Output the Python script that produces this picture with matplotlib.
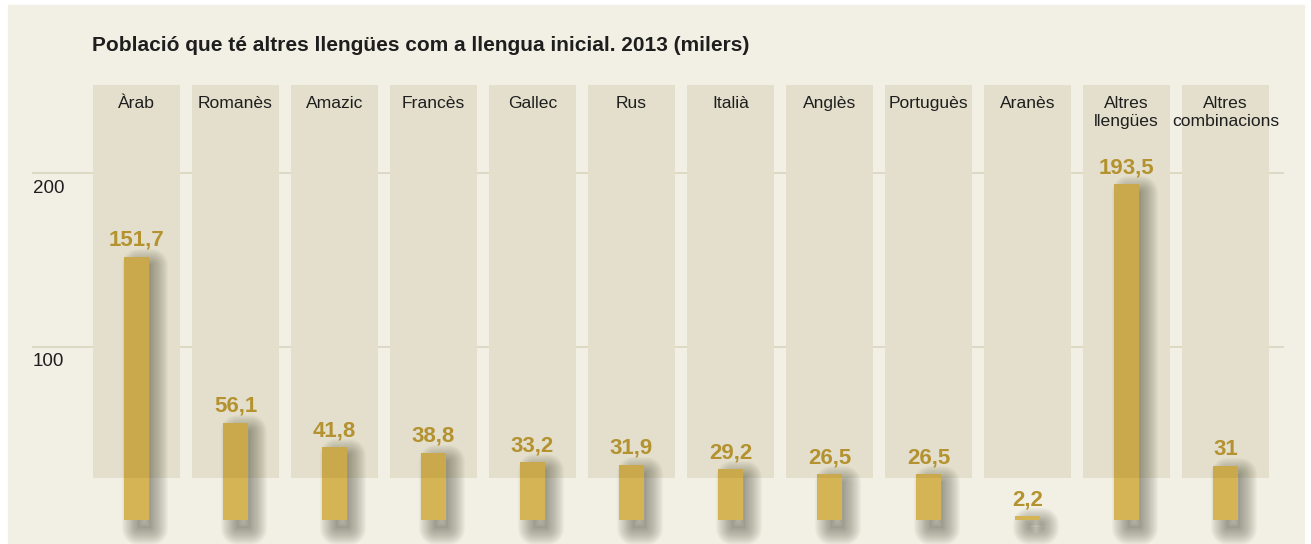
import matplotlib
matplotlib.use("Agg")
import matplotlib.pyplot as plt
import numpy as np
from matplotlib.patches import Rectangle
from matplotlib.transforms import offset_copy

# dades (milers)
categories = ['Àrab', 'Romanès', 'Amazic', 'Francès', 'Gallec', 'Rus', 'Italià',
              'Anglès', 'Portuguès', 'Aranès', 'Altres\nllengües', 'Altres\ncombinacions']
values = [151.7, 56.1, 41.8, 38.8, 33.2, 31.9, 29.2, 26.5, 26.5, 2.2, 193.5, 31]
yticks = [100, 200]

title = "Població que té altres llengües com a llengua inicial. 2013 (milers)"

cream = '#f2f0e4'
bar_col = '#d5b455'
val_col = '#b3922f'
grid_col = '#dcd7c1'
txt_col = '#1e1e1e'

plt.rcParams['font.family'] = ['Liberation Sans', 'DejaVu Sans']

W, H = 1311, 544
fig = plt.figure(figsize=(W / 100, H / 100), dpi=100, facecolor='white')
fig.patches.append(Rectangle((8 / W, 0), (1304 - 8) / W, (H - 5) / H,
                             transform=fig.transFigure, color=cream, zorder=-1))

ax = fig.add_axes([0, 0, 1, 1])
ax.set_facecolor('none')
ax.set_axis_off()

# escala: 99 px per categoria, 1.735 px per miler, zero a y=520 px
pitch = 99.0
ppu = 1.735
x0 = 136.5
y0 = 520.0
ax.set_xlim(-x0 / pitch, (W - x0) / pitch)
ax.set_ylim(-(H - y0) / ppu, y0 / ppu)

xs = list(range(len(categories)))

# linies de referencia
for t in yticks:
    ax.hlines(t, (32 - x0) / pitch, (1284 - x0) / pitch, color=grid_col, lw=1.3, zorder=0.5)
    ax.annotate(str(t), ((33 - x0) / pitch, t), xytext=(0, -7), textcoords='offset pixels',
                ha='left', va='top', fontsize=13.5, color=txt_col, zorder=5)

# columnes de fons
p_bot = (y0 - 478) / ppu
p_top = (y0 - 85) / ppu
pw = 87 / pitch
ax.bar(xs, p_top - p_bot, bottom=p_bot, width=pw, color=cream, zorder=1)

# ombra difuminada
bw = 25 / pitch
shadow_tr = offset_copy(ax.transData, fig=fig, x=8, y=-8, units='dots')
for lw in np.arange(0, 25, 1.5):
    ax.bar(xs, values, width=bw * 0.5, color='none', edgecolor='#3c3c2c',
           linewidth=lw, joinstyle='round', alpha=0.03, transform=shadow_tr, zorder=1.5)
ax.bar(xs, values, width=bw * 0.5, color='#3c3c2c', linewidth=0, alpha=0.05,
       transform=shadow_tr, zorder=1.5)

ax.bar(xs, values, width=bw, color=bar_col, zorder=2)

# capa fosca de les columnes
ax.bar(xs, p_top - p_bot, bottom=p_bot, width=pw, color='#645000', alpha=0.1,
       linewidth=0, zorder=3)

for x, c, v in zip(xs, categories, values):
    ax.text(x, (y0 - 96) / ppu, c, ha='center', va='top', fontsize=12.6,
            color=txt_col, linespacing=1.25, zorder=5)
    lab = f"{v:g}".replace('.', ',')
    ax.annotate(lab, (x, v), xytext=(0, 11), textcoords='offset pixels',
                ha='center', va='baseline', fontsize=16, fontweight='bold',
                color=val_col, zorder=5)

fig.text(92 / W, 1 - 51 / H, title, ha='left', va='baseline', fontsize=15,
         fontweight='bold', color=txt_col)

fig.savefig('out.png', dpi=100, facecolor='white')
